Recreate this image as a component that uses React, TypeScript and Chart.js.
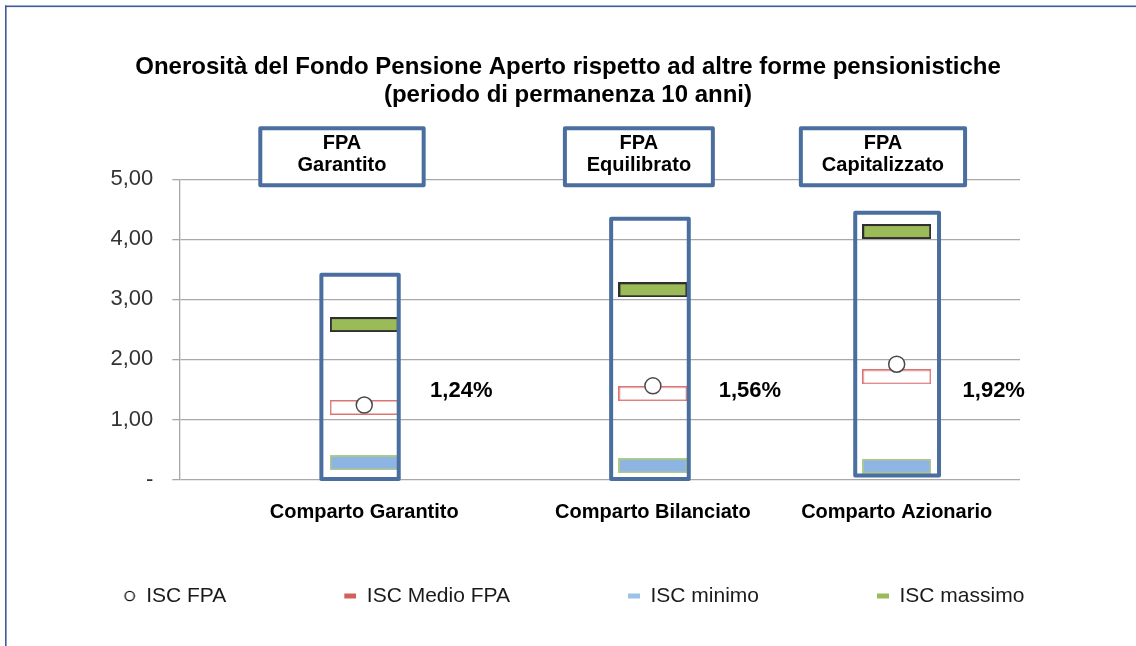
import React, { useEffect, useRef } from 'react';
import { Chart, registerables } from 'chart.js';

Chart.register(...registerables);

// ---------------- data ----------------
const titleLines = [
  'Onerosità del Fondo Pensione Aperto rispetto ad altre forme pensionistiche',
  '(periodo di permanenza 10 anni)',
];
const categories = ['Comparto Garantito', 'Comparto Bilanciato', 'Comparto Azionario'];
const categoryX = [0.66, 1.69, 2.56];
const fundLabels = [
  ['FPA', 'Garantito'],
  ['FPA', 'Equilibrato'],
  ['FPA', 'Capitalizzato'],
];
const seriesNames = ['ISC FPA', 'ISC Medio FPA', 'ISC minimo', 'ISC massimo'];
const iscFpa = [1.24, 1.56, 1.92];
const iscMedioFpa = [1.2, 1.43, 1.71];
const iscMinimo = [0.28, 0.23, 0.22];
const iscMassimo = [2.58, 3.16, 4.13];
const yTickLabels = ['-', '1,00', '2,00', '3,00', '4,00', '5,00'];

// ---------------- layout / styles ----------------
const FONT = "'Liberation Sans', Arial, Helvetica, sans-serif";
const BOX_BLUE = '#4a6f9e';
const GRID = '#a8a8a8';
const LEGEND_PAD = 106;
const LAYOUT = {
  outline: [
    { x0: 0.507, x1: 0.783, y0: 0.01, y1: 3.41 },
    { x0: 1.541, x1: 1.818, y0: 0.01, y1: 4.343 },
    { x0: 2.412, x1: 2.711, y0: 0.067, y1: 4.443 },
  ],
  tags: [
    { x0: 0.289, x1: 0.872, y0: 4.9, y1: 5.85 },
    { x0: 1.376, x1: 1.904, y0: 4.9, y1: 5.85 },
    { x0: 2.218, x1: 2.804, y0: 4.9, y1: 5.85 },
  ],
  pctDx: 0.235,
  pctY: 1.473,
  legendMarkerPad: 12,
};

function rectMarker(w: number, h: number, fill: string, stroke: string, lw: number) {
  const c = document.createElement('canvas');
  c.width = w;
  c.height = h;
  const g = c.getContext('2d')!;
  g.fillStyle = fill;
  g.fillRect(0, 0, w, h);
  if (lw > 0) {
    g.strokeStyle = stroke;
    g.lineWidth = lw;
    g.strokeRect(lw / 2, lw / 2, w - lw, h - lw);
  }
  return c;
}

function legendRect(pad: number, w: number, h: number, fill: string) {
  const c = document.createElement('canvas');
  c.width = pad + w;
  c.height = 12;
  const g = c.getContext('2d')!;
  g.fillStyle = fill;
  g.fillRect(pad, (12 - h) / 2, w, h);
  return c;
}

function legendCircle(pad: number) {
  const c = document.createElement('canvas');
  c.width = pad + 12;
  c.height = 12;
  const g = c.getContext('2d')!;
  g.strokeStyle = '#111111';
  g.lineWidth = 1.4;
  g.beginPath();
  g.arc(pad + 6, 6, 4.6, 0, Math.PI * 2);
  g.stroke();
  return c;
}

const fmtPct = (v: number) => v.toFixed(2).replace('.', ',') + '%';

const decorPlugin = {
  id: 'decor',
  beforeDraw(chart: any) {
    const { ctx } = chart;
    ctx.save();
    ctx.fillStyle = '#3f5b9b';
    ctx.fillRect(5, 5.5, 1131, 1.6);
    ctx.fillRect(5, 5.5, 1.6, 641);
    ctx.restore();
  },
  afterDatasetsDraw(chart: any) {
    const { ctx } = chart;
    const x = chart.scales.x;
    const y = chart.scales.y;
    ctx.save();
    ctx.strokeStyle = BOX_BLUE;
    ctx.lineWidth = 4;
    ctx.lineJoin = 'round';
    LAYOUT.outline.forEach((b) => {
      const l = x.getPixelForValue(b.x0);
      const r = x.getPixelForValue(b.x1);
      const t = y.getPixelForValue(b.y1);
      const bt = y.getPixelForValue(b.y0);
      ctx.strokeRect(l, t, r - l, bt - t);
    });
    LAYOUT.tags.forEach((b, i) => {
      const l = x.getPixelForValue(b.x0);
      const r = x.getPixelForValue(b.x1);
      const t = y.getPixelForValue(b.y1);
      const bt = y.getPixelForValue(b.y0);
      ctx.fillStyle = '#ffffff';
      ctx.fillRect(l, t, r - l, bt - t);
      ctx.strokeRect(l, t, r - l, bt - t);
      ctx.fillStyle = '#000000';
      ctx.font = `bold 20px ${FONT}`;
      ctx.textAlign = 'center';
      ctx.textBaseline = 'middle';
      const cx = (l + r) / 2;
      const cy = (t + bt) / 2;
      ctx.fillText(fundLabels[i][0], cx, cy - 13);
      ctx.fillText(fundLabels[i][1], cx, cy + 9);
    });
    ctx.fillStyle = '#000000';
    ctx.font = `bold 22px ${FONT}`;
    ctx.textAlign = 'left';
    ctx.textBaseline = 'middle';
    iscFpa.forEach((v, i) => {
      ctx.fillText(
        fmtPct(v),
        x.getPixelForValue(categoryX[i] + LAYOUT.pctDx),
        y.getPixelForValue(LAYOUT.pctY)
      );
    });
    ctx.restore();
  },
};

export default function App() {
  const ref = useRef<HTMLCanvasElement | null>(null);

  useEffect(() => {
    if (!ref.current) return;
    const greenMk = rectMarker(69, 15, '#9bbb59', '#2f2f2f', 2);
    const redMk = rectMarker(69, 15, '#ffffff', '#dc7474', 1.5);
    const blueMk = rectMarker(69, 15, '#8db4e2', '#b2cd82', 1.5);
    const pad = LAYOUT.legendMarkerPad;
    const legendMarkers = [
      legendCircle(pad),
      legendRect(pad, 12, 5, '#d3615b'),
      legendRect(pad, 12, 5, '#9cc2e8'),
      legendRect(pad, 12, 5, '#9bbb59'),
    ];
    const pts = (vals: number[]) => categoryX.map((xv, i) => ({ x: xv, y: vals[i] }));

    const chart = new Chart(ref.current, {
      type: 'scatter',
      data: {
        datasets: [
          {
            label: seriesNames[0],
            data: pts(iscFpa),
            pointStyle: 'circle',
            pointRadius: 8,
            pointBorderWidth: 1.5,
            pointBorderColor: '#4a4a4a',
            pointBackgroundColor: '#ffffff',
            showLine: false,
          },
          {
            label: seriesNames[1],
            data: pts(iscMedioFpa),
            pointStyle: redMk as any,
            pointRadius: 8,
            showLine: false,
          },
          {
            label: seriesNames[2],
            data: pts(iscMinimo),
            pointStyle: blueMk as any,
            pointRadius: 8,
            showLine: false,
          },
          {
            label: seriesNames[3],
            data: pts(iscMassimo),
            pointStyle: greenMk as any,
            pointRadius: 8,
            showLine: false,
          },
        ],
      },
      options: {
        responsive: false,
        animation: false,
        events: [],
        devicePixelRatio: 1,
        layout: { padding: { top: 0, left: 0, right: 0, bottom: 29.5 } },
        scales: {
          x: {
            type: 'linear',
            min: 0,
            max: 3,
            grid: { display: false, drawTicks: false },
            border: { display: false },
            ticks: {
              autoSkip: false,
              maxRotation: 0,
              mirror: true,
              padding: -44.7,
              color: '#000000',
              font: { family: FONT, size: 20, weight: 'bold' },
              callback: (_v: any, i: number) => categories[i],
            },
            afterBuildTicks: (s: any) => {
              s.ticks = categoryX.map((v) => ({ value: v }));
            },
            afterFit: (s: any) => {
              s.height = 0;
            },
          },
          y: {
            type: 'linear',
            min: 0,
            max: 5,
            ticks: {
              stepSize: 1,
              padding: 19,
              color: '#333333',
              font: { family: FONT, size: 22 },
              callback: (_v: any, i: number) => yTickLabels[i],
            },
            grid: { color: GRID, lineWidth: 1.3, tickLength: 7, drawTicks: true },
            border: { color: GRID, width: 1.3 },
            afterFit: (s: any) => {
              s.width = 179.3;
            },
          },
          yR: {
            type: 'linear',
            position: 'right',
            display: true,
            grid: { display: false, drawTicks: false },
            border: { display: false },
            ticks: { display: false },
            afterFit: (s: any) => {
              s.width = 116;
            },
          },
        },
        plugins: {
          tooltip: { enabled: false },
          title: {
            display: true,
            text: titleLines,
            color: '#000000',
            font: { family: FONT, size: 24, weight: 'bold', lineHeight: 1.2 },
            padding: { top: 52.6, bottom: 69.1 },
          },
          legend: {
            display: true,
            position: 'bottom',
            labels: {
              usePointStyle: true,
              pointStyleWidth: pad + 12,
              boxHeight: 12,
              padding: LEGEND_PAD,
              color: '#1a1a1a',
              font: { family: FONT, size: 21 },
              generateLabels: () =>
                seriesNames.map((t, i) => ({
                  text: t,
                  pointStyle: legendMarkers[i] as any,
                  fillStyle: '#ffffff',
                  strokeStyle: '#ffffff',
                  fontColor: '#1a1a1a',
                  lineWidth: 0,
                  hidden: false,
                  datasetIndex: i,
                })),
            },
          },
        },
      },
      plugins: [decorPlugin],
    });
    return () => chart.destroy();
  }, []);

  return (
    <div style={{ position: 'absolute', left: 0, top: 0, width: 1136, height: 646, background: '#ffffff' }}>
      <canvas ref={ref} width={1136} height={646} style={{ display: 'block' }} />
    </div>
  );
}
